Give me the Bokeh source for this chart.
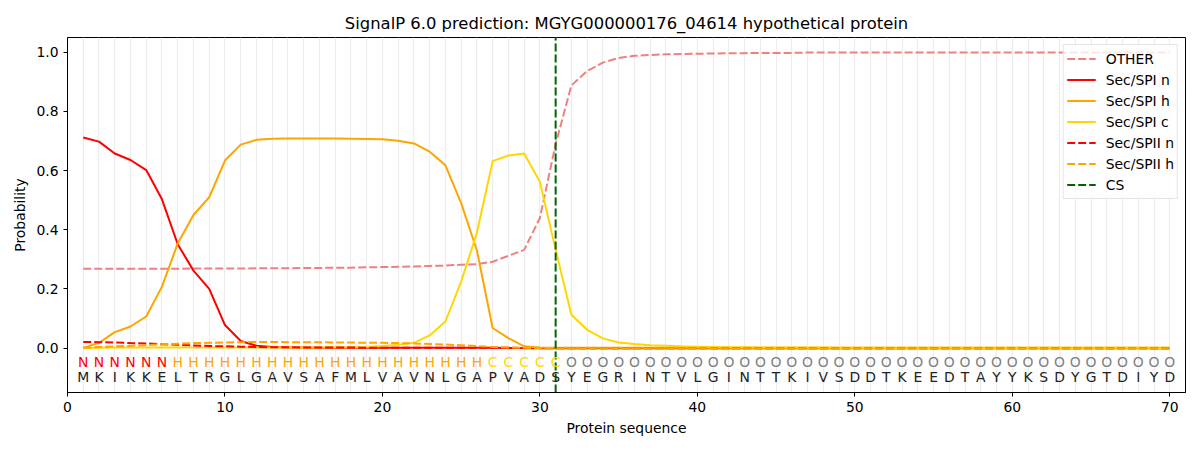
from bokeh.plotting import figure
from bokeh.models import Range1d, FixedTicker, Legend, LegendItem, PrintfTickFormatter
from bokeh.core.properties import value
from bokeh.embed import file_html
from bokeh.resources import INLINE

TITLE = "SignalP 6.0 prediction: MGYG000000176_04614 hypothetical protein"
sequence = list("MKIKKELTRGLGAVSAFMLVAVNLGAPVADSYEGRINTVLGINTTKIVSDDTKEEDTAYYKSDYGTDIYD")
regions = list("NNNNNN" + "H" * 20 + "C" * 5 + "O" * 39)
positions = list(range(1, len(sequence) + 1))
cs_position = 31

other = [0.268, 0.268, 0.268, 0.268, 0.268, 0.268, 0.268, 0.269, 0.269, 0.269,
         0.269, 0.270, 0.270, 0.270, 0.271, 0.271, 0.272, 0.272, 0.273, 0.274,
         0.275, 0.276, 0.278, 0.279, 0.282, 0.284, 0.292, 0.312, 0.332, 0.440,
         0.690, 0.888, 0.937, 0.965, 0.981, 0.988, 0.991, 0.993, 0.994, 0.995,
         0.996, 0.997, 0.997, 0.998, 0.998, 0.998, 0.999, 0.999, 0.999, 0.999,
         0.999, 0.999, 0.999, 0.999, 0.999, 0.999, 0.999, 0.999, 0.999, 0.999,
         0.999, 0.999, 0.999, 0.999, 0.999, 0.999, 0.999, 0.999, 0.999, 0.999]
spi_n = [0.712, 0.698, 0.658, 0.636, 0.602, 0.503, 0.351, 0.262, 0.200, 0.078,
         0.024, 0.008, 0.004, 0.002, 0.002, 0.001, 0.001, 0.001, 0.001, 0.001,
         0.001, 0.001, 0.001, 0.001, 0.001, 0.001, 0.001, 0.0005, 0.0, 0.0,
         0.0, 0.0, 0.0, 0.0, 0.0, 0.0, 0.0, 0.0, 0.0, 0.0,
         0.0, 0.0, 0.0, 0.0, 0.0, 0.0, 0.0, 0.0, 0.0, 0.0,
         0.0, 0.0, 0.0, 0.0, 0.0, 0.0, 0.0, 0.0, 0.0, 0.0,
         0.0, 0.0, 0.0, 0.0, 0.0, 0.0, 0.0, 0.0, 0.0, 0.0]
spi_h = [0.001, 0.018, 0.054, 0.073, 0.107, 0.208, 0.354, 0.450, 0.510, 0.634,
         0.688, 0.704, 0.708, 0.709, 0.709, 0.709, 0.709, 0.708, 0.707, 0.706,
         0.701, 0.692, 0.664, 0.618, 0.490, 0.330, 0.068, 0.034, 0.006, 0.002,
         0.001, 0.001, 0.001, 0.001, 0.001, 0.001, 0.001, 0.001, 0.001, 0.001,
         0.001, 0.001, 0.001, 0.001, 0.001, 0.001, 0.001, 0.001, 0.001, 0.001,
         0.001, 0.001, 0.001, 0.001, 0.001, 0.001, 0.001, 0.001, 0.001, 0.001,
         0.001, 0.001, 0.001, 0.001, 0.001, 0.001, 0.001, 0.001, 0.001, 0.001]
spi_c = [0.0, 0.001, 0.002, 0.002, 0.002, 0.002, 0.002, 0.002, 0.002, 0.002,
         0.002, 0.002, 0.002, 0.002, 0.002, 0.002, 0.003, 0.003, 0.004, 0.007,
         0.011, 0.018, 0.043, 0.090, 0.225, 0.390, 0.632, 0.651, 0.658, 0.562,
         0.333, 0.113, 0.062, 0.033, 0.019, 0.014, 0.010, 0.008, 0.006, 0.005,
         0.004, 0.003, 0.003, 0.002, 0.002, 0.002, 0.002, 0.002, 0.001, 0.001,
         0.001, 0.001, 0.001, 0.001, 0.001, 0.001, 0.001, 0.001, 0.001, 0.001,
         0.001, 0.001, 0.001, 0.001, 0.001, 0.001, 0.001, 0.001, 0.001, 0.001]
spii_n = [0.021, 0.020, 0.019, 0.017, 0.016, 0.013, 0.011, 0.009, 0.007, 0.006,
          0.005, 0.004, 0.003, 0.003, 0.002, 0.002, 0.002, 0.002, 0.001, 0.001,
          0.001, 0.001, 0.001, 0.001, 0.001, 0.001, 0.001, 0.001, 0.0005, 0.0,
          0.0, 0.0, 0.0, 0.0, 0.0, 0.0, 0.0, 0.0, 0.0, 0.0,
          0.0, 0.0, 0.0, 0.0, 0.0, 0.0, 0.0, 0.0, 0.0, 0.0,
          0.0, 0.0, 0.0, 0.0, 0.0, 0.0, 0.0, 0.0, 0.0, 0.0,
          0.0, 0.0, 0.0, 0.0, 0.0, 0.0, 0.0, 0.0, 0.0, 0.0]
spii_h = [0.001, 0.004, 0.006, 0.008, 0.010, 0.013, 0.015, 0.017, 0.018, 0.019,
          0.020, 0.021, 0.021, 0.020, 0.020, 0.020, 0.019, 0.019, 0.018, 0.018,
          0.017, 0.016, 0.014, 0.012, 0.010, 0.007, 0.004, 0.002, 0.001, 0.0005,
          0.0, 0.0, 0.0, 0.0, 0.0, 0.0, 0.0, 0.0, 0.0, 0.0,
          0.0, 0.0, 0.0, 0.0, 0.0, 0.0, 0.0, 0.0, 0.0, 0.0,
          0.0, 0.0, 0.0, 0.0, 0.0, 0.0, 0.0, 0.0, 0.0, 0.0,
          0.0, 0.0, 0.0, 0.0, 0.0, 0.0, 0.0, 0.0, 0.0, 0.0]

x_ticks = [0, 10, 20, 30, 40, 50, 60, 70]
y_ticks = [0.0, 0.2, 0.4, 0.6, 0.8, 1.0]
X_MIN, X_MAX = 0, 71
Y_MIN, Y_MAX = -0.15, 1.05
REGION_Y = -0.047
SEQ_Y = -0.097
region_colors = {"N": "red", "H": "orange", "C": "gold", "O": "gray"}

FONT = "DejaVu Sans"
FS = "13.9px"

p = figure(width=1186, height=440, output_backend="svg", toolbar_location=None,
           x_range=Range1d(X_MIN, X_MAX), y_range=Range1d(Y_MIN, Y_MAX),
           min_border_left=67, min_border_right=1, min_border_top=37, min_border_bottom=48,
           title=TITLE)
p.background_fill_color = "white"
p.border_fill_color = "white"
p.outline_line_color = "black"
p.outline_line_width = 1
p.outline_line_alpha = 1

p.title.text_font = FONT
p.title.text_font_size = "16.4px"
p.title.text_font_style = "normal"
p.title.align = "center"
p.title.text_color = "black"

p.ygrid.visible = False
p.xgrid.ticker = FixedTicker(ticks=positions)
p.xgrid.grid_line_color = "#ededed"
p.xgrid.grid_line_width = 1.3

for ax in (p.xaxis, p.yaxis):
    ax.axis_line_color = "black"
    ax.major_tick_line_color = "black"
    ax.major_tick_out = 4
    ax.major_tick_in = 0
    ax.minor_tick_line_color = None
    ax.major_label_text_font = FONT
    ax.major_label_text_font_size = FS
    ax.major_label_text_color = "black"
    ax.axis_label_text_font = FONT
    ax.axis_label_text_font_size = FS
    ax.axis_label_text_font_style = "normal"
    ax.axis_label_text_color = "black"

p.xaxis.ticker = FixedTicker(ticks=x_ticks)
p.yaxis.ticker = FixedTicker(ticks=y_ticks)
p.yaxis.formatter = PrintfTickFormatter(format="%.1f")
p.xaxis.axis_label = "Protein sequence"
p.yaxis.axis_label = "Probability"

DASH = "8 3"
r_other = p.line(positions, other, line_color="lightcoral", line_width=2, line_dash=DASH)
r_spin = p.line(positions, spi_n, line_color="red", line_width=2)
r_spih = p.line(positions, spi_h, line_color="orange", line_width=2)
r_spic = p.line(positions, spi_c, line_color="gold", line_width=2)
r_spiin = p.line(positions, spii_n, line_color="red", line_width=2, line_dash=DASH)
r_spiih = p.line(positions, spii_h, line_color="orange", line_width=2, line_dash=DASH)
r_cs = p.line([cs_position, cs_position], [Y_MIN, Y_MAX], line_color="darkgreen",
              line_width=2, line_dash=DASH)

p.text(x=positions, y=[REGION_Y] * len(positions), text=regions,
       text_color=[region_colors[r] for r in regions],
       text_font=value(FONT), text_font_size=FS, text_align="center", text_baseline="middle")
p.text(x=positions, y=[SEQ_Y] * len(positions), text=sequence,
       text_color="#222222",
       text_font=value(FONT), text_font_size=FS, text_align="center", text_baseline="middle")

legend = Legend(items=[
    LegendItem(label="OTHER", renderers=[r_other]),
    LegendItem(label="Sec/SPI n", renderers=[r_spin]),
    LegendItem(label="Sec/SPI h", renderers=[r_spih]),
    LegendItem(label="Sec/SPI c", renderers=[r_spic]),
    LegendItem(label="Sec/SPII n", renderers=[r_spiin]),
    LegendItem(label="Sec/SPII h", renderers=[r_spiih]),
    LegendItem(label="CS", renderers=[r_cs]),
], location="top_right")
legend.margin = 7
legend.padding = 3
legend.spacing = 0
legend.label_height = 21
legend.glyph_height = 21
legend.glyph_width = 29
legend.label_standoff = 10
legend.label_text_font = FONT
legend.label_text_font_size = FS
legend.label_text_color = "black"
legend.background_fill_color = "white"
legend.background_fill_alpha = 0.8
legend.border_line_color = "#cccccc"
legend.border_line_width = 1
p.add_layout(legend)

open("out.html", "w").write(file_html(p, INLINE))
